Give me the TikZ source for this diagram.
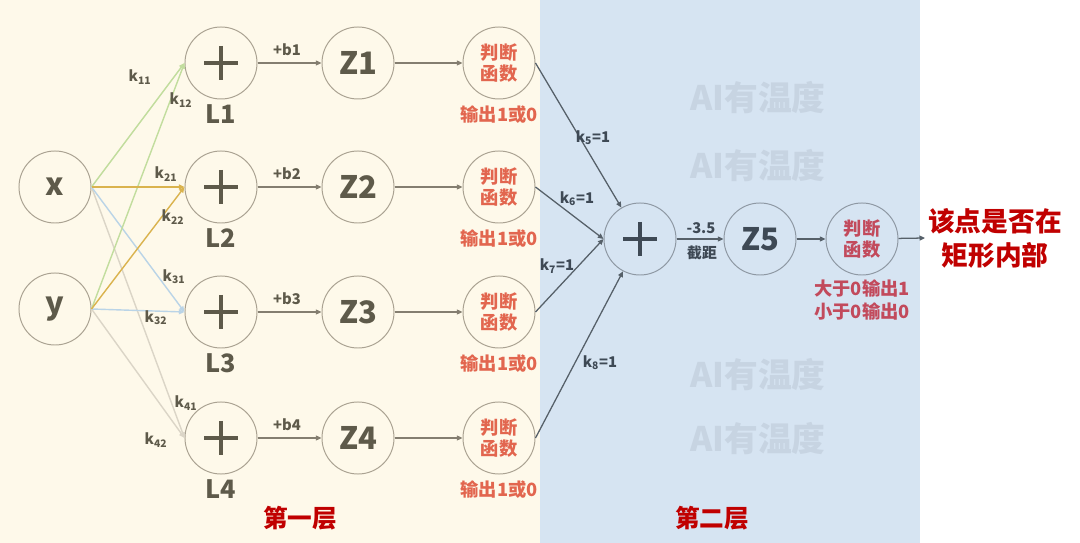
\documentclass[tikz,border=0pt]{standalone}
\usepackage{fontspec}
\setmainfont{Noto Sans CJK SC}
\usepackage{tikz}
\usetikzlibrary{arrows.meta,positioning,calc}
\definecolor{creambg}{HTML}{FEF9EA}
\definecolor{bluebg}{HTML}{D6E4F2}
\definecolor{ringY}{HTML}{AAA292}
\definecolor{ringB}{HTML}{8E98A3}
\definecolor{inkY}{HTML}{5E5A4A}
\definecolor{inkB}{HTML}{3E4955}
\definecolor{lineY}{HTML}{847E70}
\definecolor{lineB}{HTML}{566069}
\definecolor{redJ}{HTML}{E2664F}
\definecolor{redK}{HTML}{C24A5C}
\definecolor{titlered}{HTML}{C00000}
\definecolor{wmark}{HTML}{C7D4E2}
\definecolor{kgreen}{HTML}{C2DD9E}
\definecolor{kgold}{HTML}{DAB34E}
\definecolor{kblue}{HTML}{BAD4E7}
\definecolor{kgray}{HTML}{DBD5C7}

\begin{document}
\begin{tikzpicture}[x=0.025cm, y=-0.025cm, font=\bfseries,
  neu/.style={circle, draw=#1, line width=0.7pt, minimum size=1.8cm, inner sep=0pt},
  neu/.default=ringY,
  plus/.style={path picture={
      \draw[line width=2.4pt, draw=#1]
        ($(path picture bounding box.center)+(-17,0)$) -- ++(34,0)
        ($(path picture bounding box.center)+(0,-17)$) -- ++(0,34);}},
  ztxt/.style={font=\fontsize{22}{22}\selectfont\bfseries, text=inkY},
  lname/.style={font=\fontsize{18}{18}\selectfont\bfseries, text=inkY},
  jtxt/.style={font=\fontsize{13}{15}\selectfont\bfseries, text=redJ, align=center},
  note/.style={font=\fontsize{13}{16}\selectfont\bfseries, text=redJ, align=center},
  klab/.style={font=\fontsize{10.5}{10.5}\selectfont\bfseries, text=inkY, inner sep=1pt},
  title/.style={font=\fontsize{17.5}{17.5}\selectfont\bfseries, text=titlered},
  wm/.style={font=\fontsize{24}{24}\selectfont\bfseries, text=wmark},
  karr/.style={-{Triangle[length=4pt,width=3.5pt]}, line width=1pt},
  harr/.style={-{Triangle[length=4pt,width=3.5pt]}, line width=0.9pt, draw=lineY, fill=lineY},
  sarr/.style={-{Triangle[length=4pt,width=3.5pt]}, line width=0.9pt, draw=lineB, fill=lineB}]
\useasboundingbox (0,0) rectangle (1080,543);
\fill[creambg] (0,0) rectangle (540,543);
\fill[bluebg] (540,0) rectangle (920,543);
\foreach \w/\h in {1/98, 2/166, 3/375, 4/439}
  \node[wm] (wm\w) at (758,\h) {AI有温度};

\node[neu] (x) at (55,187) {};
\node[ztxt] (xt) at (x) {x};
\node[neu] (y) at (55,309) {};
\node[ztxt] (yt) at (y) {y};

\foreach \i/\r in {1/63, 2/187, 3/312, 4/438} {
  \node[neu, plus=inkY] (L\i) at (221,\r) {};
  \node[lname] (Ln\i) at (221,\r+51) {L\i};
  \node[neu, ztxt] (Z\i) at (358,\r) {Z\i};
  \node[neu, jtxt] (J\i) at (499,\r) {判断\\函数};
  \node[note] (o\i) at (499,\r+52) {输出1或0};
  \node[klab] (b\i) at (287,\r-13) {+b\i};
  \draw[harr] (L\i) -- (Z\i);
  \draw[harr] (Z\i) -- (J\i);
}

\foreach \t/\c in {L4/kgray, L3/kblue, L1/kgreen, L2/kgold} {
  \draw[karr, draw=\c, fill=\c] (x.east) -- (\t.west);
  \draw[karr, draw=\c, fill=\c] (y.east) -- (\t.west);
}
\node[klab] (k11) at (140,77)  {k\textsubscript{11}};
\node[klab] (k12) at (181,100) {k\textsubscript{12}};
\node[klab] (k21) at (166,174) {k\textsubscript{21}};
\node[klab] (k22) at (173,217) {k\textsubscript{22}};
\node[klab] (k31) at (174,277) {k\textsubscript{31}};
\node[klab] (k32) at (156,318) {k\textsubscript{32}};
\node[klab] (k41) at (186,403) {k\textsubscript{41}};
\node[klab] (k42) at (156,440) {k\textsubscript{42}};

\node[neu=ringB, plus=inkB] (S) at (640,239) {};
\node[neu=ringB, ztxt, text=inkB] (Z5) at (760,239) {Z5};
\node[neu=ringB, jtxt, text=redK] (J5) at (862,239) {判断\\函数};
\node[note, text=redK] (o5) at (862,300) {大于0输出1\\小于0输出0};
\node[font=\fontsize{19}{24}\selectfont\bfseries, text=titlered, align=center, inner sep=2pt] (res) at (995,238) {该点是否在\\矩形内部};

\draw[sarr] (J1.east) -- (S);
\draw[sarr] (J2.east) -- (S.west);
\draw[sarr] (J3.east) -- (S.west);
\draw[sarr] (J4.east) -- (S);
\node[klab, text=inkB] (k5) at (593,138) {k\textsubscript{5}=1};
\node[klab, text=inkB] (k6) at (577,199) {k\textsubscript{6}=1};
\node[klab, text=inkB] (k7) at (557,266) {k\textsubscript{7}=1};
\node[klab, text=inkB] (k8) at (600,363) {k\textsubscript{8}=1};
\draw[sarr] (S) -- (Z5);
\node[klab, text=inkB] (cut) at (701,228) {-3.5};
\node[klab, text=inkB] (cutn) at (702,253) {截距};
\draw[sarr] (Z5) -- (J5);
\draw[sarr] (J5) -- (res.west);

\node[title] (t1) at (300,518) {第一层};
\node[title] (t2) at (712,518) {第二层};
\end{tikzpicture}
\end{document}
